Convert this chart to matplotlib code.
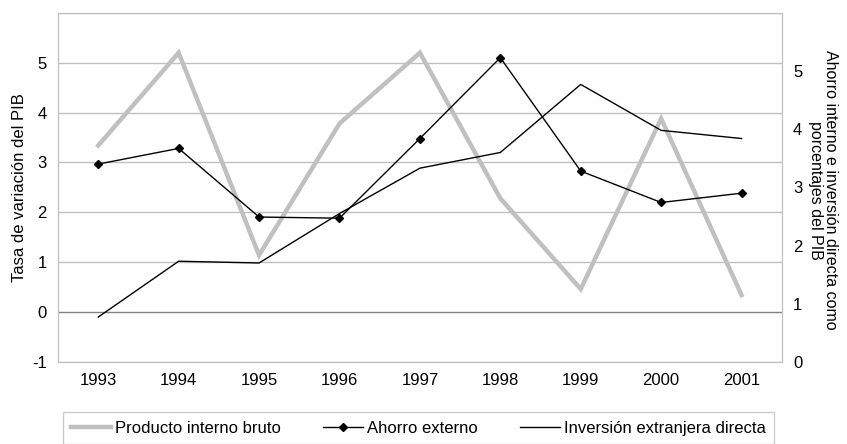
import numpy as np
import matplotlib.pyplot as plt
from matplotlib.lines import Line2D

plt.rcParams['font.family'] = ['Liberation Sans', 'DejaVu Sans']
plt.rcParams['axes.unicode_minus'] = False

years = ['1993', '1994', '1995', '1996', '1997', '1998', '1999', '2000', '2001']
pib = [3.34, 5.2, 1.14, 3.78, 5.2, 2.28, 0.46, 3.88, 0.34]
ahorro_externo = [3.40, 3.67, 2.49, 2.47, 3.84, 5.23, 3.28, 2.74, 2.90]
inversion_ext = [0.77, 1.73, 1.70, 2.55, 3.33, 3.60, 4.77, 3.98, 3.84]

grid_c = '#c0c0c0'
fs = 12

fig = plt.figure(figsize=(8.47, 4.44), dpi=100)
ax1 = fig.add_axes([0.0685, 0.185, 0.8545, 0.786])
ax2 = ax1.twinx()

x = np.arange(len(years))

# left axis: PIB growth
ax1.plot(x, pib, color='#c0c0c0', lw=3.2, solid_joinstyle='miter')
ax1.set_ylim(-1, 6)
ax1.set_yticks(range(-1, 6))
ax1.set_xlim(-0.5, len(years) - 0.5)
ax1.set_xticks(x)
ax1.set_xticklabels(years)
for v in range(-1, 7):
    ax1.axhline(v, color='#808080' if v == 0 else grid_c, lw=1, zorder=0)
ax1.set_ylabel('Tasa de variación del PIB', fontsize=fs, labelpad=4)

# right axis: ahorro e inversion
ax2.plot(x, ahorro_externo, color='black', lw=1, marker='D', ms=4.5)
ax2.plot(x, inversion_ext, color='black', lw=1)
ax2.set_ylim(0, 6)
ax2.set_yticks(range(0, 6))
fig.text(0.972, 0.572, 'Ahorro interno e inversión directa como\nporcentajes del PIB',
         fontsize=11.5, rotation=-90, ha='center', va='center',
         multialignment='center', linespacing=1.0)

for ax in (ax1, ax2):
    for s in ax.spines.values():
        s.set_color(grid_c)
    ax.tick_params(length=0, labelsize=fs, pad=8)
ax1.tick_params(axis='x', pad=8)

handles = [
    Line2D([], [], color='#c0c0c0', lw=3.2),
    Line2D([], [], color='black', lw=1, marker='D', ms=4),
    Line2D([], [], color='black', lw=1),
]
labels = ['Producto interno bruto', 'Ahorro externo', 'Inversión extranjera directa']
leg = fig.legend(handles, labels, loc='center', bbox_to_anchor=(0.494, 0.036),
                 ncol=3, fontsize=fs, frameon=True, fancybox=False,
                 handlelength=2.4, handletextpad=0.25, columnspacing=2.5,
                 borderpad=0.5, borderaxespad=0)
leg.get_frame().set_edgecolor(grid_c)
leg.get_frame().set_linewidth(1)

fig.savefig('out.png', dpi=100)
